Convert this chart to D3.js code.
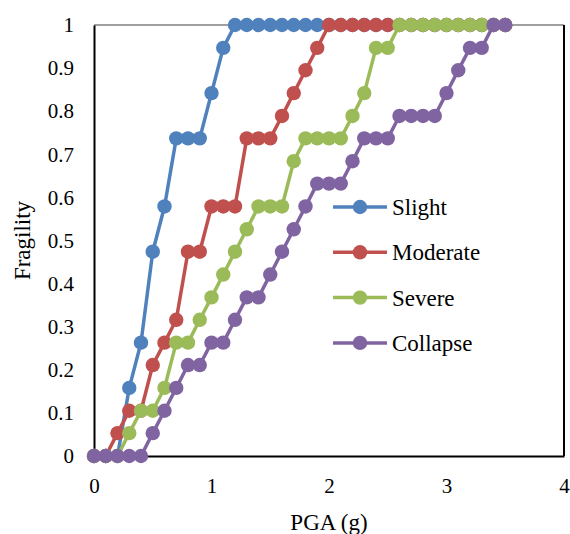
<!DOCTYPE html>
<html><head><meta charset="utf-8">
<script src="https://cdn.jsdelivr.net/npm/d3@7"></script>
<style>
html,body{margin:0;padding:0;background:#fff;}
svg{display:block;}
svg text{font-family:"Liberation Serif","Times New Roman",serif;}
</style></head>
<body>
<svg id="c" width="570" height="534"></svg>
<script>
const pga = [0,0.1,0.2,0.3,0.4,0.5,0.6,0.7,0.8,0.9,1.0,1.1,1.2,1.3,1.4,1.5,1.6,1.7,1.8,1.9,2.0,2.1,2.2,2.3,2.4,2.5,2.6,2.7,2.8,2.9,3.0,3.1,3.2,3.3,3.4,3.5];
const slight   = [0,0,0,0.158,0.263,0.474,0.579,0.737,0.737,0.737,0.842,0.947,1,1,1,1,1,1,1,1,1,1,1,1,1,1,1,1,1,1,1,1,1,1,1,1];
const moderate = [0,0,0.053,0.105,0.105,0.211,0.263,0.316,0.474,0.474,0.579,0.579,0.579,0.737,0.737,0.737,0.789,0.842,0.895,0.947,1,1,1,1,1,1,1,1,1,1,1,1,1,1,1,1];
const severe   = [0,0,0,0.053,0.105,0.105,0.158,0.263,0.263,0.316,0.368,0.421,0.474,0.526,0.579,0.579,0.579,0.684,0.737,0.737,0.737,0.737,0.789,0.842,0.947,0.947,1,1,1,1,1,1,1,1,1,1];
const collapse = [0,0,0,0,0,0.053,0.105,0.158,0.211,0.211,0.263,0.263,0.316,0.368,0.368,0.421,0.474,0.526,0.579,0.632,0.632,0.632,0.684,0.737,0.737,0.737,0.789,0.789,0.789,0.789,0.842,0.895,0.947,0.947,1,1];
const seriesNames = ["Slight","Moderate","Severe","Collapse"];
const seriesColors = ["#4F81BD","#C0504D","#9BBB59","#8064A2"];
const xTicks = [0,1,2,3,4];
const yTicks = [0,0.1,0.2,0.3,0.4,0.5,0.6,0.7,0.8,0.9,1];
const yTickLabels = ["0","0.1","0.2","0.3","0.4","0.5","0.6","0.7","0.8","0.9","1"];

const seriesValues = [slight, moderate, severe, collapse];
const series = seriesNames.map((n,i)=>({name:n,color:seriesColors[i],pts:pga.map((x,j)=>({x:x,y:seriesValues[i][j]}))}));

const FONT = '"Liberation Serif","Times New Roman",serif';
const svg = d3.select("#c");
const L=94, R=564, T=25, B=456;
const x = d3.scaleLinear().domain([0,4]).range([L,R]);
const y = d3.scaleLinear().domain([0,1]).range([B,T]);

// plot border
svg.append("line").attr("x1",L).attr("x2",R).attr("y1",T).attr("y2",T).attr("stroke","#7f7f7f").attr("stroke-width",1.5);
svg.append("line").attr("x1",R).attr("x2",R).attr("y1",T).attr("y2",B).attr("stroke","#000").attr("stroke-width",2);

// axes
const ya = svg.append("g").attr("transform",`translate(${L},0)`)
  .call(d3.axisLeft(y).tickValues(yTicks).tickSize(0).tickPadding(20).tickFormat((d,i)=>yTickLabels[i]));
const xa = svg.append("g").attr("transform",`translate(0,${B})`)
  .call(d3.axisBottom(x).tickValues(xTicks).tickSize(0).tickPadding(22).tickFormat(d3.format("d")));
[ya,xa].forEach(a=>{
  a.attr("font-family",FONT).attr("font-size",21);
  a.select(".domain").attr("stroke","#000").attr("stroke-width",2);
  a.selectAll("text").attr("fill","#000");
});

// series
const line = d3.line().x(d=>x(d.x)).y(d=>y(d.y));
series.forEach(s=>{
  const g = svg.append("g");
  g.append("path").datum(s.pts).attr("d",line).attr("fill","none").attr("stroke",s.color).attr("stroke-width",3.5).attr("stroke-linejoin","round");
  g.selectAll("circle").data(s.pts).join("circle").attr("cx",d=>x(d.x)).attr("cy",d=>y(d.y)).attr("r",7.2).attr("fill",s.color);
});

// legend
const lg = svg.append("g").attr("font-family",FONT);
series.forEach((s,i)=>{
  const yy = 207 + i*45.3;
  lg.append("line").attr("x1",333).attr("x2",387).attr("y1",yy).attr("y2",yy).attr("stroke",s.color).attr("stroke-width",3.5);
  lg.append("circle").attr("cx",360).attr("cy",yy).attr("r",7.2).attr("fill",s.color);
  lg.append("text").attr("x",392).attr("y",yy).attr("dy","0.35em").attr("font-size",23).attr("font-family",FONT).text(s.name);
});

// axis titles
svg.append("text").attr("x",(L+R)/2).attr("y",530).attr("text-anchor","middle").attr("font-size",23).attr("font-family",FONT).text("PGA (g)");
svg.append("text").attr("transform",`translate(30,${(T+B)/2}) rotate(-90)`).attr("text-anchor","middle").attr("font-size",23).attr("font-family",FONT).text("Fragility");
</script>
</body></html>
